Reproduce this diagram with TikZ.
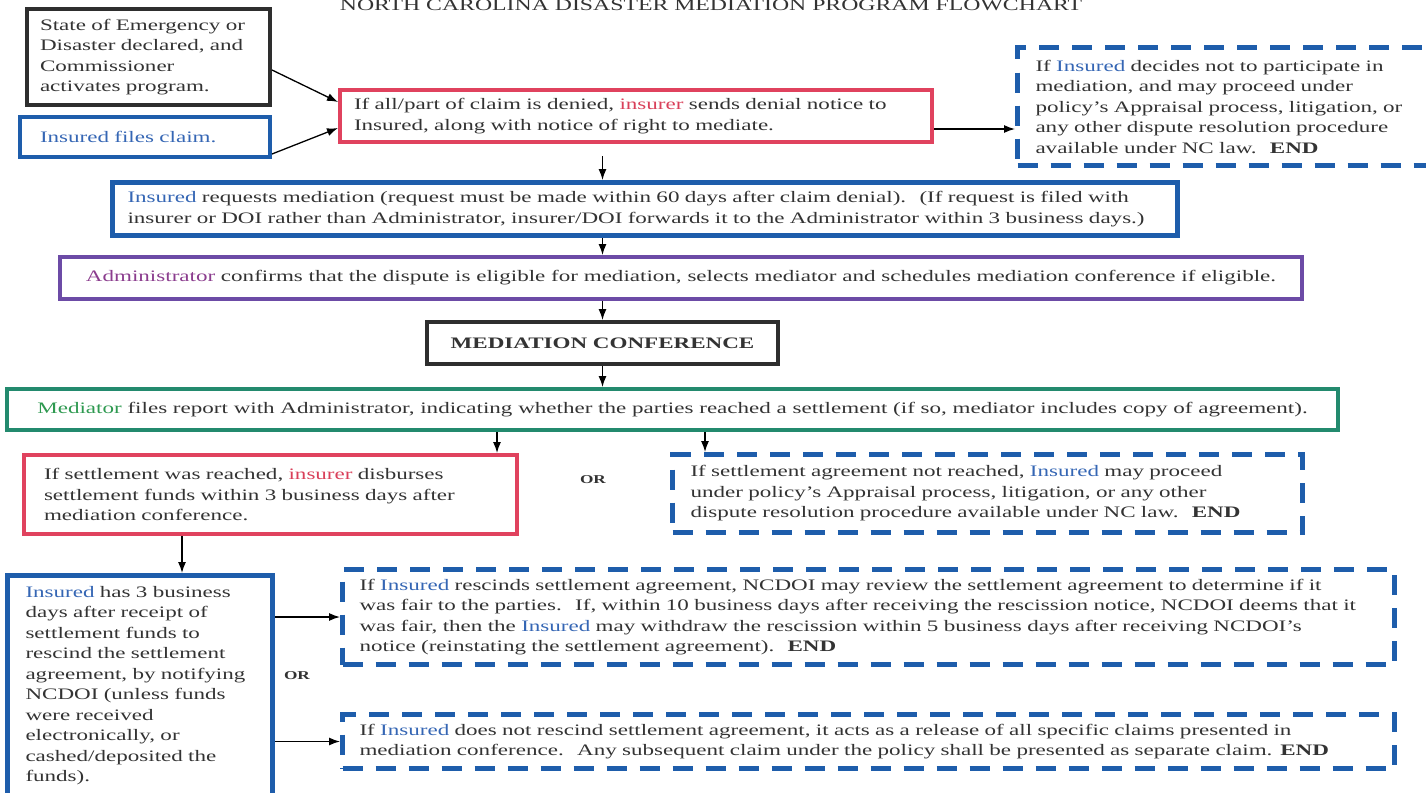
\documentclass[tikz,border=0pt]{standalone}
\usepackage{fontspec}
\usetikzlibrary{positioning,arrows.meta}
\newfontfamily\ncfont[FakeStretch=1.44]{Liberation Serif}
\definecolor{ncgray}{HTML}{2E2E2E}
\definecolor{nctext}{HTML}{333333}
\definecolor{ncblue}{HTML}{1E5DAB}
\definecolor{insblue}{HTML}{3566B4}
\definecolor{ncred}{HTML}{E0425E}
\definecolor{insred}{HTML}{D9405A}
\definecolor{ncpurple}{HTML}{6C4BA6}
\definecolor{adminpurple}{HTML}{8B3D8E}
\definecolor{ncgreen}{HTML}{238A6E}
\definecolor{medgreen}{HTML}{2E9950}
\newcommand{\insured}{\textcolor{insblue}{Insured}}
\newcommand{\insurer}{\textcolor{insred}{insurer}}

\begin{document}
\begin{tikzpicture}[x=1pt, y=-1pt, -{Latex[length=11pt,width=8pt]}, line width=1.3pt,
stage/.style={draw, -, line width=4pt, anchor=north west, align=left, inner sep=0pt,
  font=\ncfont\fontsize{16}{20.5}\selectfont, text=nctext},
endbox/.style={stage, draw=ncblue, line width=5pt, dash pattern=on 20pt off 13pt},
ortag/.style={font=\ncfont\bfseries\fontsize{12}{14}\selectfont, text=nctext}]
\clip (0,0) rectangle (1426,792);
\node[font=\ncfont\fontsize{16.5}{18}\selectfont, text=nctext, anchor=base] (title) at (711,11) {NORTH CAROLINA DISASTER MEDIATION PROGRAM FLOWCHART};
\node[stage, draw=ncgray, minimum width=243, minimum height=96, text width=217] (emerg) at (25,7) {State of Emergency or\\Disaster declared, and\\Commissioner\\activates program.};
\node[stage, draw=ncblue, text=insblue, minimum width=250, minimum height=40, text width=210] (files) at (18,115) {Insured files claim.};
\node[stage, draw=ncred, minimum width=592, minimum height=52, text width=564] (denial) at (338,88) {If all/part of claim is denied, \insurer{} sends denial notice to\\Insured, along with notice of right to mediate.};
\node[endbox, minimum width=440, minimum height=118, text width=404] (optout) at (1015,45) {If \insured{} decides not to participate in\\mediation, and may proceed under\\policy’s Appraisal process, litigation, or\\any other dispute resolution procedure\\available under NC law.~ \textbf{END}};
\node[stage, draw=ncblue, line width=5pt, minimum width=1065, minimum height=53, text width=1035] (request) at (110,180) {\insured{} requests mediation (request must be made within 60 days after claim denial).~ (If request is filed with\\insurer or DOI rather than Administrator, insurer/DOI forwards it to the Administrator within 3 business days.)};
\node[stage, draw=ncpurple, align=center, minimum width=1242, minimum height=42] (admin) at (58,255) {\textcolor{adminpurple}{Administrator} confirms that the dispute is eligible for mediation, selects mediator and schedules mediation conference if eligible.};
\node[stage, draw=ncgray, align=center, font=\ncfont\bfseries\fontsize{16}{20.5}\selectfont, minimum width=351, minimum height=42] (conf) at (425,320) {MEDIATION CONFERENCE};
\node[stage, draw=ncgreen, align=center, minimum width=1331, minimum height=41] (mediator) at (5,387) {\textcolor{medgreen}{Mediator} files report with Administrator, indicating whether the parties reached a settlement (if so, mediator includes copy of agreement).};
\node[stage, draw=ncred, minimum width=493, minimum height=79, text width=453] (settled) at (22,453) {If settlement was reached, \insurer{} disburses\\settlement funds within 3 business days after\\mediation conference.};
\node[ortag] (or1) at (593,480) {OR};
\node[endbox, minimum width=630, minimum height=78, text width=594] (notreached) at (670,452) {If settlement agreement not reached, \insured{} may proceed\\under policy’s Appraisal process, litigation, or any other\\dispute resolution procedure available under NC law.~ \textbf{END}};
\node[stage, draw=ncblue, line width=5pt, minimum width=265, minimum height=220, text width=229] (rescind) at (5,573) {\insured{} has 3 business\\days after receipt of\\settlement funds to\\rescind the settlement\\agreement, by notifying\\NCDOI (unless funds\\were received\\electronically, or\\cashed/deposited the\\funds).};
\node[ortag] (or2) at (297,676) {OR};
\node[endbox, minimum width=1052, minimum height=95, text width=1018] (rescinded) at (340,567) {If \insured{} rescinds settlement agreement, NCDOI may review the settlement agreement to determine if it\\was fair to the parties.~ If, within 10 business days after receiving the rescission notice, NCDOI deems that it\\was fair, then the \insured{} may withdraw the rescission within 5 business days after receiving NCDOI’s\\notice (reinstating the settlement agreement).~ \textbf{END}};
\node[endbox, minimum width=1052, minimum height=54, text width=1018] (norescind) at (340,712) {If \insured{} does not rescind settlement agreement, it acts as a release of all specific claims presented in\\mediation conference.~ Any subsequent claim under the policy shall be presented as separate claim. \textbf{END}};
\coordinate (gap) at ([yshift=-12pt]denial.south);
\coordinate (s1) at ([xshift=-22pt]settled.north east);
\coordinate (n1) at ([xshift=35pt]notreached.north west);
\coordinate (s2) at ([xshift=160pt]settled.south west);
\draw ([yshift=-13pt]emerg.east) -- ([yshift=14pt]denial.west);
\draw ([yshift=-17pt]files.east) -- ([yshift=-12pt]denial.west);
\draw ([yshift=-13pt]denial.east) coordinate (d1) -- (d1 -| optout.west);
\draw (gap -| conf.north) -- (conf.north |- request.north);
\draw (conf.north |- request.south) -- (conf.north |- admin.north);
\draw (conf.north |- admin.south) -- (conf.north);
\draw (conf.south) -- (conf.south |- mediator.north);
\draw (s1 |- mediator.south) -- (s1);
\draw (n1 |- mediator.south) -- (n1);
\draw (s2) -- (s2 |- rescind.north);
\draw (rescind.east |- rescinded.west) -- (rescinded.west);
\draw (rescind.east |- norescind.west) -- (norescind.west);
\end{tikzpicture}
\end{document}
